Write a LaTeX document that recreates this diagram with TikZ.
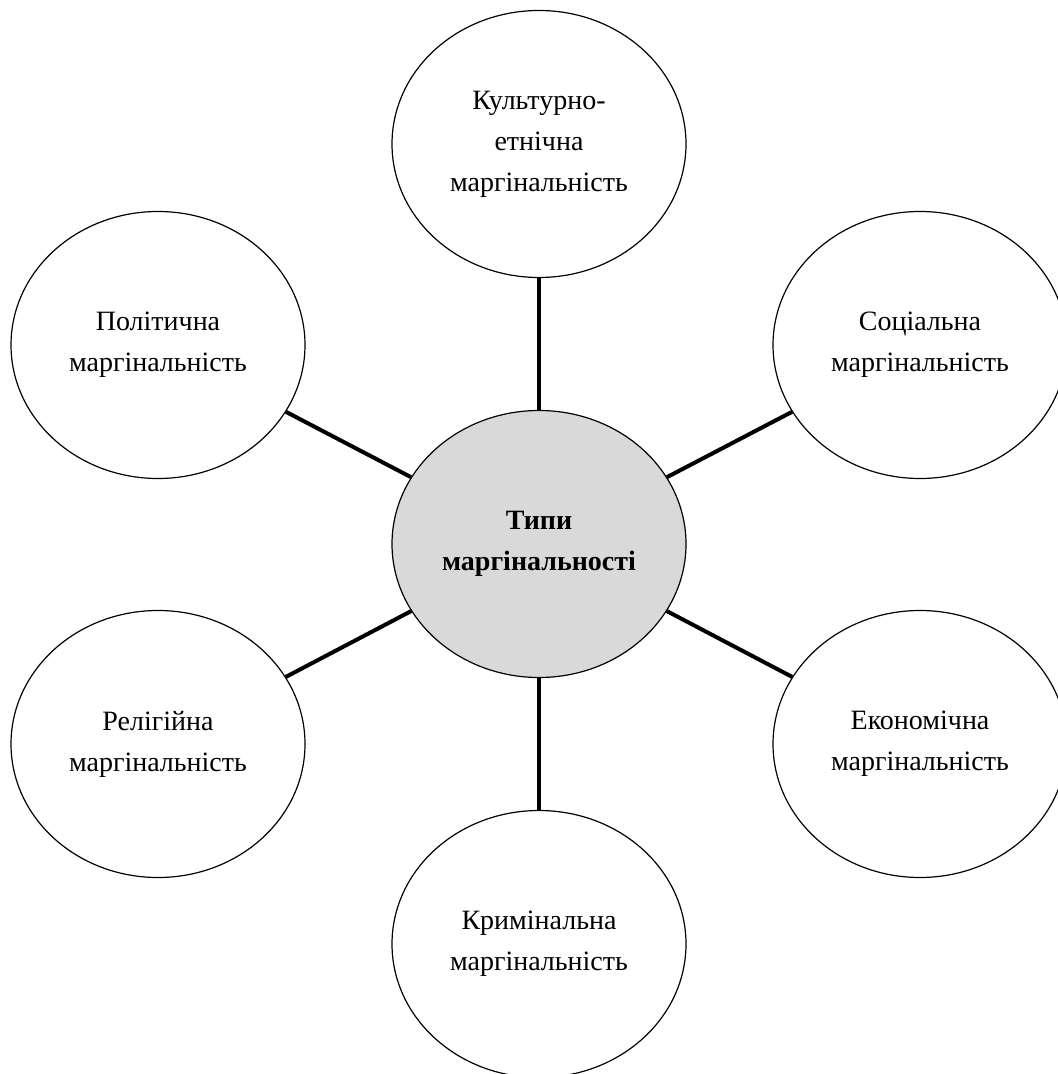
\documentclass[tikz,border=0pt]{standalone}
\usepackage{fontspec}
\setmainfont{Liberation Serif}
\usepackage{tikz}
\usetikzlibrary{shapes.geometric}

\begin{document}
\begin{tikzpicture}[x=0.5pt,y=-0.5pt]
\useasboundingbox (0,0) rectangle (1057,1074);
\begin{scope}[every node/.style={ellipse,draw=black,line width=0.6pt,
              minimum width=147pt,minimum height=133.5pt,inner sep=0pt,
              align=center,font=\fontsize{14}{20.5}\selectfont}]
    \node[fill={rgb,255:red,217;green,217;blue,217}] (C) at (539,544) {\textbf{Типи}\\\textbf{маргінальності}};
    \node (T) at (539,144) {Культурно-\\етнічна\\маргінальність};
    \node (TL) at (158,345) {Політична\\маргінальність};
    \node (TR) at (920,345) {Соціальна\\маргінальність};
    \node (BL) at (158,744) {Релігійна\\маргінальність};
    \node (BR) at (920,744) {Економічна\\маргінальність};
    \node (B) at (539,944) {Кримінальна\\маргінальність};

    \end{scope}

\begin{scope}[every edge/.style={draw=black,line width=2pt}]
    \path (C) edge (T);
    \path (C) edge (TL);
    \path (C) edge (TR);
    \path (C) edge (BL);
    \path (C) edge (BR);
    \path (C) edge (B);

    \end{scope}

\end{tikzpicture}
\end{document}
